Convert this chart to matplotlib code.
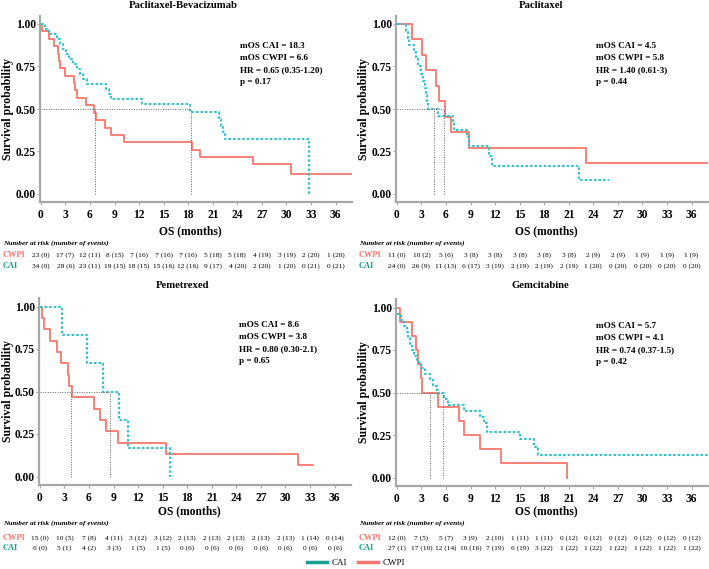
import matplotlib
matplotlib.use("Agg")
import matplotlib.pyplot as plt
from matplotlib.lines import Line2D
from matplotlib.transforms import blended_transform_factory

plt.rcParams['font.family'] = ['Liberation Serif', 'DejaVu Serif']

# ---- data ----
titles = ["Paclitaxel-Bevacizumab", "Paclitaxel", "Pemetrexed", "Gemcitabine"]

cwpi_t = [
    [0, 0.2, 0.97, 1.66, 2.15, 2.25, 2.3, 2.92, 4.05, 4.2, 4.4, 5.5, 6.5, 6.77, 7.8, 8.6, 10.1, 18.5, 19.4, 25.9, 30.6, 38],
    [0, 1.82, 3.08, 3.6, 4.78, 5.19, 5.84, 6.57, 8.76, 23.1, 38],
    [0, 0.28, 0.53, 1.22, 2.15, 2.6, 3.5, 3.57, 3.9, 6.65, 7.3, 8.07, 9.6, 15.45, 31.5, 33.4],
    [0, 0.4, 1.82, 2.39, 2.55, 2.96, 3.12, 5.03, 7.62, 8.23, 10.13, 12.77, 20.8],
]
cwpi_s = [
    [1, 0.957, 0.913, 0.870, 0.826, 0.783, 0.739, 0.696, 0.652, 0.609, 0.565, 0.522, 0.478, 0.435, 0.391, 0.348, 0.304, 0.261, 0.217, 0.174, 0.116, 0.116],
    [1, 0.909, 0.818, 0.727, 0.636, 0.545, 0.455, 0.364, 0.273, 0.182, 0.182],
    [1, 0.933, 0.867, 0.8, 0.733, 0.667, 0.6, 0.533, 0.467, 0.4, 0.333, 0.267, 0.2, 0.133, 0.067, 0.067],
    [1, 0.917, 0.833, 0.75, 0.667, 0.583, 0.5, 0.417, 0.333, 0.25, 0.167, 0.083, 0.0],
]
cai_t = [
    [0, 0.45, 1.0, 2.0, 2.4, 2.7, 3.1, 3.4, 3.9, 4.4, 4.8, 5.2, 5.6, 7.9, 8.3, 8.6, 12.4, 18.2, 21.7, 21.95, 22.2, 22.5, 32.8],
    [0, 1.13, 1.35, 1.54, 2.15, 2.4, 2.6, 3.0, 3.2, 3.4, 3.57, 3.7, 3.85, 5.07, 6.85, 7.0, 8.6, 8.85, 11.3, 11.6, 22.25, 25.9],
    [0, 2.68, 5.8, 7.74, 9.7, 10.8, 15.9],
    [0, 0.5, 0.9, 1.2, 1.4, 1.6, 1.8, 2.1, 2.5, 3.0, 3.5, 4.0, 4.4, 4.9, 5.8, 6.3, 8.2, 10.1, 10.6, 11.0, 15.0, 16.7, 17.3, 38],
]
cai_s = [
    [1, 0.971, 0.941, 0.912, 0.882, 0.853, 0.824, 0.794, 0.765, 0.735, 0.706, 0.676, 0.647, 0.618, 0.588, 0.559, 0.527, 0.483, 0.443, 0.402, 0.362, 0.322, 0.0],
    [1, 0.958, 0.917, 0.875, 0.833, 0.792, 0.75, 0.708, 0.667, 0.625, 0.583, 0.542, 0.5, 0.458, 0.417, 0.375, 0.333, 0.283, 0.222, 0.167, 0.083, 0.083],
    [1, 0.833, 0.667, 0.5, 0.333, 0.167, 0.0],
    [0.964, 0.929, 0.893, 0.857, 0.821, 0.786, 0.75, 0.714, 0.679, 0.643, 0.607, 0.571, 0.536, 0.5, 0.464, 0.425, 0.39, 0.355, 0.32, 0.27, 0.225, 0.18, 0.135, 0.135],
]
med_cai = [18.3, 4.5, 8.6, 5.7]
med_cwpi = [6.6, 5.8, 3.8, 4.1]
stats = [
    ["mOS CAI = 18.3", "mOS CWPI = 6.6", "HR = 0.65 (0.35-1.20)", "p = 0.17"],
    ["mOS CAI = 4.5", "mOS CWPI = 5.8", "HR = 1.40 (0.61-3)", "p = 0.44"],
    ["mOS CAI = 8.6", "mOS CWPI = 3.8", "HR = 0.80 (0.30-2.1)", "p = 0.65"],
    ["mOS CAI = 5.7", "mOS CWPI = 4.1", "HR = 0.74 (0.37-1.5)", "p = 0.42"],
]
risk_times = [0, 3, 6, 9, 12, 15, 18, 21, 24, 27, 30, 33, 36]
risk_cwpi = [
    ["23 (0)", "17 (7)", "12 (11)", "8 (15)", "7 (16)", "7 (16)", "7 (16)", "5 (18)", "5 (18)", "4 (19)", "3 (19)", "2 (20)", "1 (20)"],
    ["11 (0)", "10 (2)", "5 (6)", "3 (8)", "3 (8)", "3 (8)", "3 (8)", "3 (8)", "2 (9)", "2 (9)", "1 (9)", "1 (9)", "1 (9)"],
    ["15 (0)", "10 (5)", "7 (8)", "4 (11)", "3 (12)", "3 (12)", "2 (13)", "2 (13)", "2 (13)", "2 (13)", "2 (13)", "1 (14)", "0 (14)"],
    ["12 (0)", "7 (5)", "5 (7)", "3 (9)", "2 (10)", "1 (11)", "1 (11)", "0 (12)", "0 (12)", "0 (12)", "0 (12)", "0 (12)", "0 (12)"],
]
risk_cai = [
    ["34 (0)", "28 (6)", "23 (11)", "19 (15)", "18 (15)", "15 (16)", "12 (16)", "9 (17)", "4 (20)", "2 (20)", "1 (20)", "0 (21)", "0 (21)"],
    ["24 (0)", "26 (9)", "11 (13)", "6 (17)", "3 (19)", "2 (19)", "2 (19)", "2 (19)", "1 (20)", "0 (20)", "0 (20)", "0 (20)", "0 (20)"],
    ["6 (0)", "5 (1)", "4 (2)", "3 (3)", "1 (5)", "1 (5)", "0 (6)", "0 (6)", "0 (6)", "0 (6)", "0 (6)", "0 (6)", "0 (6)"],
    ["27 (1)", "17 (10)", "12 (14)", "10 (16)", "7 (19)", "6 (19)", "3 (22)", "1 (22)", "1 (22)", "1 (22)", "1 (22)", "1 (22)", "1 (22)"],
]

# ---- layout (pixels of a 709x569 canvas) ----
W, H = 709, 569
col_red = '#F8766D'
col_cyan = '#2EC4CC'
col_teal = '#1A9E92'

fig = plt.figure(figsize=(W / 100, H / 100), dpi=100)

axes_px = [(40, 202.5), (396, 202.5), (39, 485), (396, 486)]  # left, bottom
ax_w, ax_h = 312, 187
title_px = [(183, 6), (541, 6), (183, 286), (540, 286)]
xlab_y = [231, 231, 511, 511]
table_y = [(243, 255, 266), (243, 255, 266), (523, 538, 548), (523, 538, 548)]
label_x = [3, 359, 3, 359]
ylab_x = [8, 364, 8, 364]

for i in range(4):
    l, b = axes_px[i]
    ax = fig.add_axes([l / W, 1 - b / H, ax_w / W, ax_h / H])
    ax.step(cwpi_t[i], cwpi_s[i], where='post', color=col_red, lw=1.3)
    ax.step(cai_t[i], cai_s[i], where='post', color=col_cyan, lw=1.5,
            linestyle=(0, (1.2, 1.0)))

    m = max(med_cai[i], med_cwpi[i])
    ax.plot([0, m], [0.5, 0.5], color='#666666', lw=0.7, linestyle=(0, (1, 1.5)))
    for md in (med_cai[i], med_cwpi[i]):
        ax.plot([md, md], [0, 0.5], color='#666666', lw=0.7, linestyle=(0, (1, 1.5)))

    ax.set_xlim(-0.1, 38)
    ax.set_ylim(-0.05, 1.05)
    ax.set_xticks(risk_times)
    ax.set_yticks([0, 0.25, 0.5, 0.75, 1.0])
    ax.set_yticklabels(["0.00", "0.25", "0.50", "0.75", "1.00"])
    for s in ('top', 'right'):
        ax.spines[s].set_visible(False)
    for s in ('left', 'bottom'):
        ax.spines[s].set_color('#A8A8A8')
        ax.spines[s].set_linewidth(1.6)
    ax.tick_params(axis='both', colors='#A8A8A8', length=2, width=0.8,
                   labelcolor='black', labelsize=8.3)
    ax.tick_params(axis='y', pad=1)
    ax.tick_params(axis='x', pad=3)
    for lab in ax.get_xticklabels() + ax.get_yticklabels():
        lab.set_fontweight('bold')

    ys = [0.87, 0.80, 0.73, 0.66] if i < 2 else [0.89, 0.82, 0.75, 0.68]
    for txt, yy in zip(stats[i], ys):
        ax.text(24.3, yy, txt, fontsize=6.6, fontweight='bold', va='center', ha='left')

    tx, ty = title_px[i]
    fig.text(tx / W, 1 - ty / H, titles[i], fontsize=7.7, fontweight='bold',
             ha='center', va='center')
    fig.text((l + ax_w / 2 - 6) / W, 1 - xlab_y[i] / H, "OS (months)", fontsize=8.3,
             fontweight='bold', ha='center', va='center')
    fig.text(ylab_x[i] / W, 1 - (b - ax_h / 2) / H, "Survival probability",
             fontsize=8.5, fontweight='bold', rotation=90, ha='center', va='center')

    # risk table
    hy, ry1, ry2 = table_y[i]
    fig.text(label_x[i] / W, 1 - hy / H, "Number at risk (number of events)",
             fontsize=5.3, fontweight='bold', style='italic', va='center')
    fig.text(label_x[i] / W, 1 - ry1 / H, "CWPI", fontsize=6, color=col_red,
             fontweight='bold', va='center')
    fig.text(label_x[i] / W, 1 - ry2 / H, "CAI", fontsize=6, color=col_teal,
             fontweight='bold', va='center')
    trans = blended_transform_factory(ax.transData, fig.transFigure)
    for t, a, c in zip(risk_times, risk_cwpi[i], risk_cai[i]):
        fig.text(t, 1 - ry1 / H, a, transform=trans, fontsize=5.3, ha='center', va='center')
        fig.text(t, 1 - ry2 / H, c, transform=trans, fontsize=5.3, ha='center', va='center')

handles = [Line2D([], [], color=col_teal, lw=2.5), Line2D([], [], color=col_red, lw=2.5)]
fig.legend(handles, ["CAI", "CWPI"], loc='center', bbox_to_anchor=(356 / W, 1 - 563 / H),
           ncol=2, frameon=False, fontsize=6.5, handlelength=2.2, columnspacing=1.2,
           handletextpad=0.5)

fig.savefig("out.png", dpi=100)
